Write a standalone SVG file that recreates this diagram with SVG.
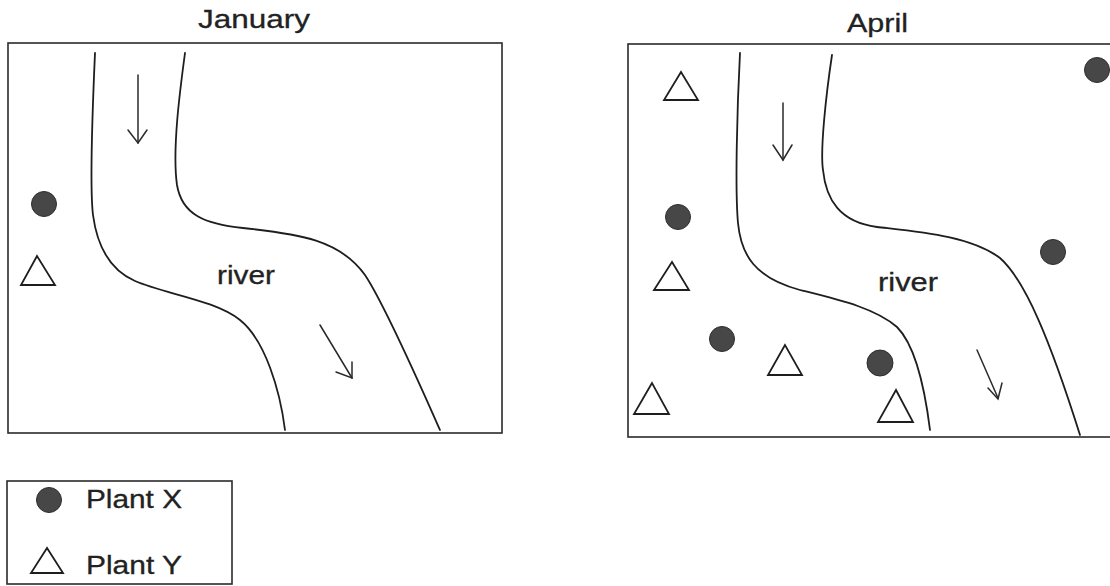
<svg xmlns="http://www.w3.org/2000/svg" width="1110" height="586" viewBox="0 0 1110 586">
<style>
.frame{fill:none;stroke:#2a2a2a;stroke-width:1.6}
.bank{fill:none;stroke:#1e1e1e;stroke-width:1.8;stroke-linecap:round}
.arr{fill:none;stroke:#2a2a2a;stroke-width:1.5;stroke-linecap:round;stroke-linejoin:miter}
.px{fill:#474747;stroke:#2e2e2e;stroke-width:1}
.py{fill:#fff;stroke:#1e1e1e;stroke-width:1.8;stroke-linejoin:miter}
.t{font-family:"Liberation Sans",Arial,sans-serif;font-size:25.5px;fill:#222;stroke:#222;stroke-width:0.3}
</style>
<rect width="1110" height="586" fill="#fff"/>
<g id="january">
<text class="t" x="198" y="28" textLength="112" lengthAdjust="spacingAndGlyphs">January</text>
<rect class="frame" x="8" y="43" width="494" height="390"/>
<path class="bank" d="M95,53 C92,120 90,190 93,215 C97,245 110,270 135,281 C165,294 215,300 240,320 C265,340 280,390 285,430"/>
<path class="bank" d="M185,53 C180,90 172,150 177,185 C182,215 205,224 243,228 C300,234 340,240 365,275 C385,305 420,385 440,430"/>
<text class="t" x="217" y="284" textLength="58" lengthAdjust="spacingAndGlyphs">river</text>
<circle class="px" cx="44" cy="204" r="12.5"/>
<polygon class="py" points="37,256 21,285 55,285"/>
</g>
<g id="april">
<text class="t" x="847" y="32" textLength="61" lengthAdjust="spacingAndGlyphs">April</text>
<rect class="frame" x="628" y="44" width="490" height="393"/>
<path class="bank" d="M740,53 C737,110 735,190 738,223 C741,255 755,278 800,290 C840,300 875,308 897,327 C915,345 925,390 930,430"/>
<path class="bank" d="M832,55 C826,95 820,150 823,170 C826,200 840,222 877,227 C920,232 970,236 1000,258 C1025,280 1050,340 1080,435"/>
<text class="t" x="878" y="291" textLength="60" lengthAdjust="spacingAndGlyphs">river</text>
<circle class="px" cx="1097" cy="70" r="12.5"/>
<circle class="px" cx="678" cy="217" r="12.5"/>
<circle class="px" cx="1053" cy="252" r="12.5"/>
<circle class="px" cx="722" cy="339" r="12.5"/>
<circle class="px" cx="880" cy="363" r="13"/>
<polygon class="py" points="681,72 664,100 698,100"/>
<polygon class="py" points="672,262 654,290 689,290"/>
<polygon class="py" points="785,345 768,375 802,375"/>
<polygon class="py" points="652,383 634,414 669,414"/>
<polygon class="py" points="896,390 878,422 913,422"/>
</g>
<g id="connectors">
<line class="arr" x1="138" y1="75" x2="138" y2="143"/>
<polyline class="arr" points="128,130 138,143 147,130"/>
<line class="arr" x1="320" y1="325" x2="352" y2="378"/>
<polyline class="arr" points="336,372 352,378 352,362"/>
<line class="arr" x1="783" y1="103" x2="783" y2="160"/>
<polyline class="arr" points="773,145 783,160 792,145"/>
<line class="arr" x1="977" y1="350" x2="998" y2="398"/>
<polyline class="arr" points="988,388 998,399 1002,383"/>
</g>
<g id="legend">
<rect class="frame" x="7" y="481" width="225" height="103"/>
<circle class="px" cx="49" cy="500" r="12.5"/>
<text class="t" x="86" y="508" textLength="96" lengthAdjust="spacingAndGlyphs">Plant X</text>
<polygon class="py" points="47,548 31,573 63,573"/>
<text class="t" x="86" y="574" textLength="96" lengthAdjust="spacingAndGlyphs">Plant Y</text>
</g>
</svg>
